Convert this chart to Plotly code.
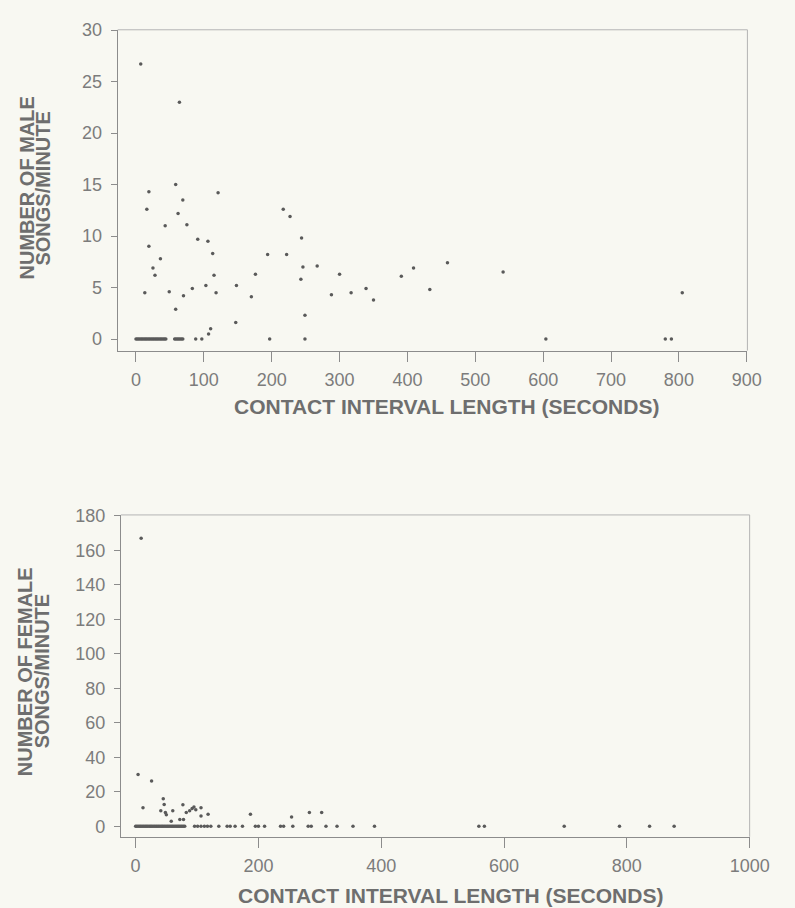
import plotly.graph_objects as go

# ---- Top panel: male songs/minute vs contact interval length ----
male_x = [7, 64, 58.5, 19, 121, 69, 16, 62, 217, 227, 75, 43, 91, 106, 244, 19, 113, 194, 222, 36,
          25, 246, 267, 28, 115, 176, 300, 243, 103, 148, 83, 339, 13, 49, 118, 317, 70, 170, 288, 350,
          58.5, 249, 147, 110, 107, 391, 409, 433, 459, 541, 805]
male_y = [26.7, 23.0, 15.0, 14.3, 14.2, 13.5, 12.6, 12.2, 12.6, 11.9, 11.1, 11.0, 9.7, 9.5, 9.8, 9.0, 8.3, 8.2, 8.2, 7.8,
          6.9, 7.0, 7.1, 6.2, 6.2, 6.3, 6.3, 5.8, 5.2, 5.2, 4.9, 4.9, 4.5, 4.6, 4.5, 4.5, 4.2, 4.1, 4.3, 3.8,
          2.9, 2.3, 1.6, 1.0, 0.5, 6.1, 6.9, 4.8, 7.4, 6.5, 4.5]
male_zero_x = [0, 2, 4, 6, 8, 10, 12, 14, 16, 18, 20, 22, 24, 26, 28, 30, 32, 34, 36, 38, 40, 42, 44,
               57, 59, 61, 63, 65, 67, 69, 88, 97, 197, 249, 604, 780, 789]
male_zero_y = [0] * len(male_zero_x)

# ---- Bottom panel: female songs/minute vs contact interval length ----
female_x = [9, 4, 26, 12, 45, 46.5, 41, 48.5, 50, 60.5, 58, 72, 78, 77, 82.5, 88, 92, 95, 98, 106.5,
            106.5, 118, 187, 254, 283, 303]
female_y = [167, 30, 26.3, 10.8, 16, 12.7, 9, 8, 6.8, 9, 2.9, 4, 4, 12.6, 8, 9, 10.3, 11.2, 9.7, 10.8,
            6, 7, 7, 5.5, 8, 8]
female_zero_x = [0, 2, 4, 6, 8, 10, 12, 14, 16, 18, 20, 22, 24, 26, 28, 30, 32, 34, 36, 38, 40,
                 42, 44, 46, 48, 50, 52, 54, 56, 58, 60, 62, 64, 66, 68, 70, 72, 74, 76, 78, 80,
                 96, 101, 106.5, 112, 117, 122.5, 135.5, 149, 154, 162, 174, 195, 200, 210, 236, 241,
                 256, 281, 286, 310, 328, 354, 389, 559, 568, 698, 788, 837, 877]
female_zero_y = [0] * len(female_zero_x)

top_x_ticks = [0, 100, 200, 300, 400, 500, 600, 700, 800, 900]
top_y_ticks = [0, 5, 10, 15, 20, 25, 30]
bot_x_ticks = [0, 200, 400, 600, 800, 1000]
bot_y_ticks = [0, 20, 40, 60, 80, 100, 120, 140, 160, 180]

x_title = "CONTACT INTERVAL LENGTH (SECONDS)"
male_title = ["NUMBER OF MALE", "SONGS/MINUTE"]
female_title = ["NUMBER OF FEMALE", "SONGS/MINUTE"]

W, H = 795, 908
BG = "#f8f8f2"
TXT = "#7c7c7c"
TTL = "#6e6e6e"
LINE = "#8c8c8c"
LINE_LIGHT = "#b4b4b4"
MK = dict(size=3.5, color="#5a5a5a")
FONT = "Liberation Sans, Arial, sans-serif"

fig = go.Figure()
fig.add_trace(go.Scatter(x=male_x + male_zero_x, y=male_y + male_zero_y, mode="markers",
                         marker=MK, xaxis="x", yaxis="y", showlegend=False))
fig.add_trace(go.Scatter(x=female_x + female_zero_x, y=female_y + female_zero_y, mode="markers",
                         marker=MK, xaxis="x2", yaxis="y2", showlegend=False))

tickfont = dict(family=FONT, size=18, color=TXT)
titlefont = dict(family=FONT, size=21, color=TTL, weight="bold")
ytitlefont = dict(family=FONT, size=20, color=TTL, weight="bold")

common = dict(showgrid=False, zeroline=False, showline=True, linecolor=LINE, linewidth=1,
              mirror=False, ticks="outside", tickcolor=LINE, tickfont=tickfont)
xcommon = dict(ticklen=10, ticklabelstandoff=3, **common)
ycommon = dict(ticklen=6, ticklabelstandoff=5, **common)

fig.update_layout(
    width=W, height=H,
    paper_bgcolor=BG, plot_bgcolor=BG,
    margin=dict(l=0, r=0, t=0, b=0),
    xaxis=dict(domain=[120.7 / W, 766.7 / W], range=[-27, 901], tickvals=top_x_ticks,
               anchor="y", **xcommon),
    yaxis=dict(domain=[1 - 345 / H, 1 - 21 / H], range=[-1.12, 30.03], tickvals=top_y_ticks,
               anchor="x", **ycommon),
    xaxis2=dict(domain=[124 / W, 769 / W], range=[-24, 1000], tickvals=bot_x_ticks,
                anchor="y2", **xcommon),
    yaxis2=dict(domain=[1 - 836 / H, 1 - 511 / H], range=[-6, 180.5], tickvals=bot_y_ticks,
                anchor="x2", **ycommon),
)

# light top/right frame lines
for xr, yr in (("x", "y"), ("x2", "y2")):
    fig.add_shape(type="line", xref=f"{xr} domain", yref=f"{yr} domain", x0=0, x1=1, y0=1, y1=1,
                  line=dict(color=LINE_LIGHT, width=1))
    fig.add_shape(type="line", xref=f"{xr} domain", yref=f"{yr} domain", x0=1, x1=1, y0=0, y1=1,
                  line=dict(color=LINE_LIGHT, width=1))


def px_x(v):
    return v / W


def px_y(v):
    return 1 - v / H


annos = [
    dict(text=x_title, x=px_x(458), y=px_y(401), font=titlefont),
    dict(text=x_title, x=px_x(462), y=px_y(895), font=titlefont),
    dict(text=male_title[0], x=px_x(28), y=px_y(181), textangle=-90, font=ytitlefont),
    dict(text=male_title[1], x=px_x(44.5), y=px_y(181), textangle=-90, font=ytitlefont),
    dict(text=female_title[0], x=px_x(26.5), y=px_y(669), textangle=-90, font=ytitlefont),
    dict(text=female_title[1], x=px_x(43), y=px_y(669), textangle=-90, font=ytitlefont),
]
for a in annos:
    fig.add_annotation(xref="paper", yref="paper", showarrow=False, xanchor="center",
                       yanchor="middle", **a)

fig.write_html(
    "out.html", config={"displayModeBar": False},
    post_script=("document.body.style.margin='0';"
                 "document.body.style.overflow='hidden';"
                 "document.documentElement.style.overflow='hidden';"),
)
